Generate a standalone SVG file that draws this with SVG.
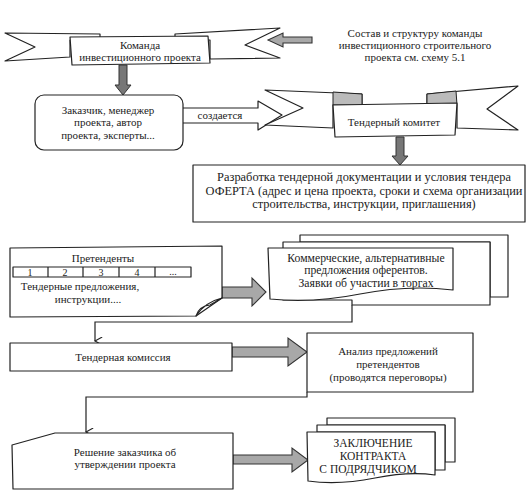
<svg xmlns="http://www.w3.org/2000/svg" width="530" height="497" viewBox="0 0 530 497" font-family="'Liberation Serif', 'DejaVu Serif', serif">
<style>
.ln{fill:#fff;stroke:#222;stroke-width:1.2;stroke-linejoin:round}
.fold{fill:#bbb;stroke:#222;stroke-width:1}
.ga{fill:#a8a8a8;stroke:#333;stroke-width:1.1;stroke-linejoin:miter}
.da{fill:#777;stroke:#333;stroke-width:1}
.con{fill:none;stroke:#222;stroke-width:1.2}
text{font-family:'Liberation Serif','DejaVu Serif',serif;font-size:11px;fill:#222;text-anchor:middle}
.caps{font-size:11.5px}
.big{font-size:12.4px}
.mid{font-size:11.7px}
</style>
<defs>
<marker id="v" viewBox="0 0 10 10" refX="5" refY="9" markerWidth="8" markerHeight="10" orient="auto" markerUnits="userSpaceOnUse">
<path d="M0,0 L5,9 L10,0" fill="none" stroke="#222" stroke-width="1.4"/>
</marker>
</defs>
<rect width="530" height="497" fill="#fff"/>

<g id="connectors">
<path class="da" d="M119,65 L127,65 L127,85 L131,85 L123,95 L115,85 L119,85 Z"/>
<path class="ga" d="M312,37 L283,37 L283,33 L268,40 L283,47 L283,43 L312,43 Z"/>
<path class="ln" d="M183,108 L258,108 L258,101 L282,115 L258,130 L258,123 L183,123"/>
<path class="da" d="M396,137 L404,137 L404,156 L408,156 L400,165 L392,156 L396,156 Z"/>
<path class="ga" d="M222,287 L252,287 L252,278 L266,292 L252,306 L252,298 L222,298 Z"/>
<path class="con" d="M352,305 L352,322 L95,322 L95,341" marker-end="url(#v)"/>
<path class="ga" d="M232,347 L288,347 L288,338 L307,352 L288,366 L288,357 L232,357 Z"/>
<path class="con" d="M307,392 L307,397 L86,397 L86,432" marker-end="url(#v)"/>
<path class="ga" d="M233,455 L292,455 L292,448 L308,460 L292,472 L292,464 L233,464 Z"/>
</g>

<g id="node-komanda">
<path class="ln" d="M5,33 L100,34 L100,40 L70,40 L70,57 L5,61 L35,47 Z"/>
<path class="ln" d="M175,34 L280,28 L245,45 L280,58 L210,59 L210,40 L175,40 Z"/>
<path class="ln" d="M70,37 L208,36 L210,63 L72,65 Z"/>
<text x="140" y="49">Команда</text>
<text x="140" y="61">инвестиционного проекта</text>
</g>

<g id="node-note">
<text x="415" y="37">Состав и структуру команды</text>
<text x="415" y="49">инвестиционного строительного</text>
<text x="415" y="61">проекта см. схему 5.1</text>
</g>

<g id="node-zakazchik">
<rect class="ln" x="35" y="95" width="148" height="55" rx="9"/>
<text x="108" y="114">Заказчик, менеджер</text>
<text x="108" y="126">проекта, автор</text>
<text x="108" y="139">проекта, эксперты...</text>
<text x="220" y="119">создается</text>
</g>

<g id="node-komitet">
<path class="ln" d="M265,90 L362,94 L362,105 L333,105 L333,128 L265,125 L303,108 Z"/>
<path class="ln" d="M427,94 L518,86 L487,109 L518,130 L457,128 L457,105 L427,105 Z"/>
<path class="fold" d="M333,92 L362,94 L362,105 L333,105 Z"/>
<path class="fold" d="M427,94 L456,91 L457,105 L427,105 Z"/>
<path class="ln" d="M333,105 L457,103 L455,135 L335,137 Z"/>
<text x="394" y="126">Тендерный комитет</text>
</g>

<g id="node-razrabotka">
<rect class="ln" x="193" y="165" width="332" height="57"/>
<text class="big" x="364" y="181">Разработка тендерной документации и условия тендера</text>
<text class="big" x="364" y="195">ОФЕРТА (адрес и цена проекта, сроки и схема организации</text>
<text class="big" x="364" y="208">строительства, инструкции, приглашения)</text>
</g>

<g id="node-pretendenty">
<path class="ln" d="M10,248 L222,246 L222,298 L196,316 L10,317 Z"/>
<path class="ln" d="M196,316 Q199,306 210,305 L222,298 Q205,302 196,316 Z"/>
<text x="103" y="262">Претенденты</text>
<rect class="ln" x="13" y="267" width="178" height="10" stroke-width="1.4"/>
<path class="con" d="M48,267 V277 M83,267 V277 M119,267 V277 M155,267 V277"/>
<text x="30" y="276" style="font-size:10px">1</text>
<text x="65" y="276" style="font-size:10px">2</text>
<text x="101" y="276" style="font-size:10px">3</text>
<text x="137" y="276" style="font-size:10px">4</text>
<text x="173" y="275" style="font-size:10px">...</text>
<text x="80" y="290">Тендерные предложения,</text>
<text x="88" y="303">инструкции....</text>
</g>

<g id="node-predlozheniya">
<path class="ln" d="M300,235 L508,235 L508,297 L490,297 L490,242 L300,242 Z"/>
<path class="ln" d="M283,242 L490,242 L490,305 L352,305 L352,300 L283,300 Z"/>
<path class="ln" d="M268,248 L453,248 L453,290 C420,286 390,288 360,294 C330,300 300,302 270,299 Z"/>
<text class="mid" x="366" y="262">Коммерческие, альтернативные</text>
<text class="mid" x="366" y="274">предложения оферентов.</text>
<text class="mid" x="366" y="287">Заявки об участии в торгах</text>
</g>

<g id="node-komissiya">
<rect class="ln" x="10" y="343" width="222" height="28"/>
<text x="123" y="361">Тендерная комиссия</text>
</g>

<g id="node-analiz">
<rect class="ln" x="307" y="333" width="166" height="59"/>
<text x="388" y="355">Анализ предложений</text>
<text x="388" y="368">претендентов</text>
<text x="388" y="381">(проводятся переговоры)</text>
</g>

<g id="node-reshenie">
<path class="ln" d="M12,445 L55,433 L233,433 L233,489 L13,489 Z"/>
<text x="125" y="456">Решение заказчика об</text>
<text x="125" y="468">утверждении проекта</text>
</g>

<g id="node-kontrakt">
<path class="ln" d="M327,418 L455,418 L455,462 L445,462 L445,425 L327,425 Z"/>
<path class="ln" d="M317,425 L445,425 L445,470 L435,470 L435,432 L317,432 Z"/>
<path class="ln" d="M307,432 L435,432 L435,475 C415,472 395,474 375,478 C355,482 330,484 308,481 Z"/>
<text class="caps" x="373" y="447">ЗАКЛЮЧЕНИЕ</text>
<text class="caps" x="373" y="460">КОНТРАКТА</text>
<text class="caps" x="368" y="473">С ПОДРЯДЧИКОМ</text>
</g>
</svg>
